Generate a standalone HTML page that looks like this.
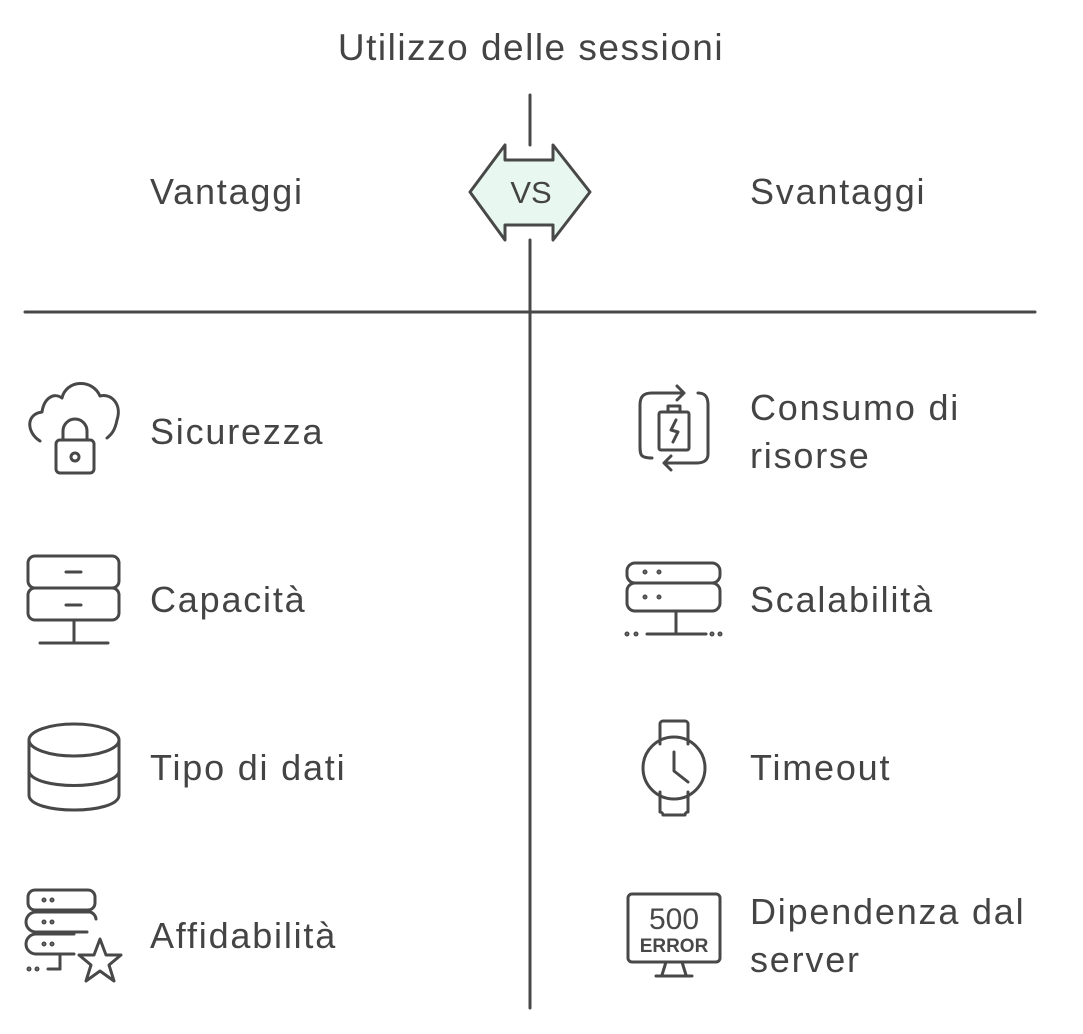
<!DOCTYPE html>
<html><head><meta charset="utf-8"><style>
html,body{margin:0;padding:0;background:#fff;}
svg{display:block;}
text{font-family:"Liberation Sans",sans-serif;fill:#444;}
.l{letter-spacing:1.8px;}
</style></head><body>
<svg width="1083" height="1034" viewBox="0 0 1083 1034" xmlns="http://www.w3.org/2000/svg">
<g stroke="#484848" stroke-width="3" fill="none" stroke-linecap="round" stroke-linejoin="round">
<line x1="530" y1="95" x2="530" y2="145"/>
<line x1="530" y1="240" x2="530" y2="1008"/>
<line x1="25" y1="312" x2="1035" y2="312"/>
<polygon points="470,192 505,145 505,160 553,160 553,145 590,192 553,240 553,225 505,225 505,240" fill="#e8f8f0"/>

<path d="M40,441 C26,432 26,414 42,412 C44,398 54,392 62,398 C66,380 92,378 100,396 C112,393 122,405 117,420 C115,430 112,434 107,438"/>
<rect x="56" y="440" width="38" height="33" rx="4"/>
<path d="M63,440 V431 A12,12 0 0 1 87,431 V440"/>
<circle cx="75" cy="457" r="4"/>

<rect x="28" y="556" width="91" height="32" rx="7"/>
<rect x="28" y="588" width="91" height="32" rx="7"/>
<line x1="66" y1="572" x2="81" y2="572"/><line x1="66" y1="605" x2="81" y2="605"/>
<line x1="74" y1="620" x2="74" y2="643"/><line x1="40" y1="643" x2="108" y2="643"/>

<ellipse cx="74" cy="740" rx="45" ry="16"/>
<path d="M29,740 V795 C29,815 119,815 119,795 V740"/>
<path d="M29,772 C35,790 113,790 119,772"/>

<rect x="28" y="890" width="67" height="20" rx="7"/>
<path d="M87,932 H36 A8,8 0 0 1 36,912 H90 A8,8 0 0 1 96,919"/>
<path d="M74,954 H36 A8,8 0 0 1 36,934 H74"/>
<line x1="60" y1="954" x2="60" y2="969"/><line x1="48" y1="969" x2="60" y2="969"/>
<circle cx="44" cy="900" r="1" /><circle cx="52" cy="900" r="1"/>
<circle cx="44" cy="922" r="1"/><circle cx="52" cy="922" r="1"/>
<circle cx="44" cy="944" r="1"/><circle cx="52" cy="944" r="1"/>
<circle cx="29" cy="969" r="1"/><circle cx="37" cy="969" r="1"/>
<polygon points="100,939 106,955 121,955 109,965 114,981 100,971 86,981 91,965 79,955 94,955"/>

<path d="M652,458 C640,458 640,455 640,444 V405 C640,396 644,393 652,393 H682"/>
<path d="M677,386 L684,393 L677,400"/>
<path d="M698,393 C706,393 708,398 708,405 V454 C708,460 704,463 697,463 H665"/>
<path d="M671,456 L664,463 L671,470"/>
<rect x="659" y="412" width="30" height="38" rx="2"/>
<path d="M668,412 V406 H680 V412"/>
<path d="M676,420 L671,430 L678,432 L673,442"/>

<rect x="627" y="563" width="93" height="20" rx="8"/>
<rect x="627" y="583" width="93" height="28" rx="8"/>
<line x1="676" y1="611" x2="676" y2="634"/><line x1="647" y1="634" x2="706" y2="634"/>
<circle cx="645" cy="572" r="1"/><circle cx="659" cy="572" r="1"/>
<circle cx="645" cy="597" r="1"/><circle cx="659" cy="597" r="1"/>
<circle cx="627" cy="634" r="1"/><circle cx="636" cy="634" r="1"/>
<circle cx="712" cy="634" r="1"/><circle cx="720" cy="634" r="1"/>

<path d="M660,744 V724 A3,3 0 0 1 663,721 H685 A3,3 0 0 1 688,724 V744"/>
<path d="M660,792 V812 A3,3 0 0 1 663,815 H685 A3,3 0 0 1 688,812 V792"/>
<circle cx="674" cy="768" r="31"/>
<path d="M674,752 V771 L688,782"/>

<rect x="628" y="894" width="92" height="68" rx="4"/>
<line x1="666" y1="962" x2="662" y2="975"/><line x1="682" y1="962" x2="686" y2="975"/>
<line x1="656" y1="976" x2="692" y2="976"/>
</g>
<text x="674" y="929" text-anchor="middle" font-size="30" style="fill:#484848">500</text>
<text x="674" y="952" text-anchor="middle" font-size="19" font-weight="bold" style="fill:#484848">ERROR</text>

<text x="531" y="60" text-anchor="middle" font-size="37" style="letter-spacing:1.5px">Utilizzo delle sessioni</text>
<text x="531" y="203" text-anchor="middle" font-size="31">VS</text>
<text class="l" x="150" y="204" font-size="36">Vantaggi</text>
<text class="l" x="750" y="204" font-size="36">Svantaggi</text>
<text class="l" x="150" y="444" font-size="36">Sicurezza</text>
<text class="l" x="150" y="612" font-size="36">Capacità</text>
<text class="l" x="150" y="780" font-size="36">Tipo di dati</text>
<text class="l" x="150" y="948" font-size="36">Affidabilità</text>
<text class="l" x="750" y="420" font-size="36">Consumo di</text>
<text class="l" x="750" y="468" font-size="36">risorse</text>
<text class="l" x="750" y="612" font-size="36">Scalabilità</text>
<text class="l" x="750" y="780" font-size="36">Timeout</text>
<text class="l" x="750" y="924" font-size="36">Dipendenza dal</text>
<text class="l" x="750" y="972" font-size="36">server</text>
</svg>
</body></html>
